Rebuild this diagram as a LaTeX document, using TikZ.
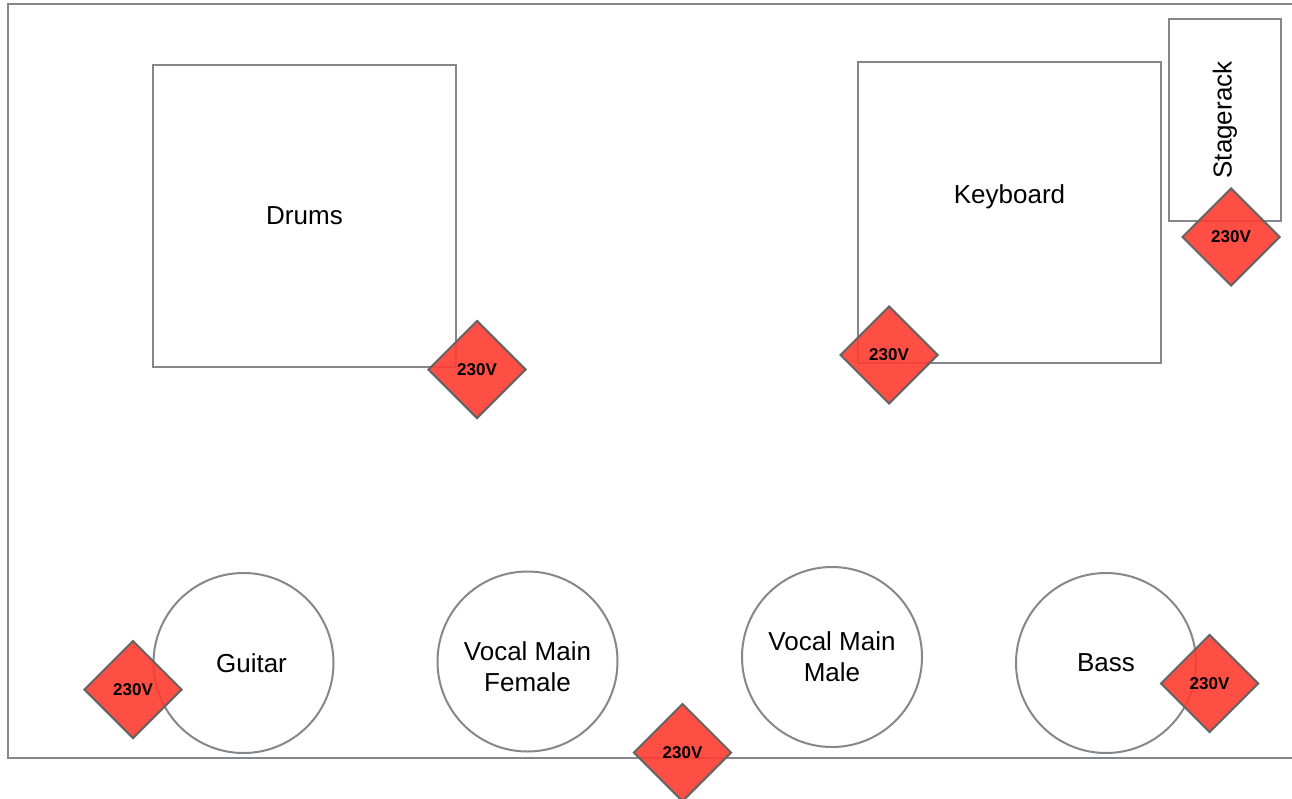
\documentclass[tikz,border=0pt]{standalone}
\usepackage{fontspec}
\setmainfont{Liberation Sans}
\usepackage{tikz}
\usetikzlibrary{positioning, shapes}

\definecolor{outlineGray}{HTML}{85878C}
\definecolor{socketRed}{HTML}{FF3B30}
\definecolor{socketEdge}{HTML}{646464}

\begin{document}
\begin{tikzpicture}[x=1pt, y=-1pt,
	instrument/.style={rectangle, draw=outlineGray, line width=2pt, fill=white, text centered, 
	font=\fontsize{26}{30}\selectfont},
	player/.style={circle, draw=outlineGray, line width=2pt, fill=white, minimum size=180, 
	inner sep=0pt, align=center, font=\fontsize{26}{31}\selectfont},
	socket/.style={diamond, draw=socketEdge, line width=2pt, fill=socketRed, fill opacity=0.9, 
	text opacity=1, minimum width=98, minimum height=98, inner sep=0pt, 
	font=\bfseries\fontsize{17}{18}\selectfont}]
			
			\useasboundingbox (0,0) rectangle (1292,798);
			
			%Stage
			\draw [outlineGray, line width=2pt] (1300,4) -- (8,4) -- (8,758) -- (1300,758);
			
			%Nodes
			\node (drums) at (304.5,216) [instrument, minimum width=303, minimum height=302] {Drums};
			
			\node (keyboard) at (1009.5,212.5) [instrument, minimum width=303, minimum height=301, 
			label={[yshift=16, font=\fontsize{26}{30}\selectfont]center:Keyboard}] {};
			
			\node (stagerack) at (1225,120) [instrument, rotate=90, minimum width=202, 
			minimum height=112] {Stagerack};
			
			\node (guitar) at (243.5,663) [player, label={[xshift=8, font=\fontsize{26}{30}\selectfont]center:Guitar}] {};
			
			\node (vocalFemale) at (527.5,661.5) [player, label={[yshift=-5, align=center, 
			font=\fontsize{26}{31}\selectfont]center:Vocal Main\\Female}] {};
			
			\node (vocalMale) at (832,657) [player] {Vocal Main\\Male};
			
			\node (bass) at (1106,663) [player] {Bass};
			
			%Power
			\node (powerDrums) at (477,369.5) [socket] {\raisebox{-3pt}{230V}};
			
			\node (powerKeyboard) at (889,355) [socket] {\raisebox{-3pt}{230V}};
			
			\node (powerRack) at (1231,237) [socket] {\raisebox{-3pt}{230V}};
			
			\node (powerGuitar) at (133,689.5) [socket] {\raisebox{-1pt}{230V}};
			
			\node (powerFront) at (682.5,752.5) [socket] {230V};
			
			\node (powerBass) at (1209.5,683.5) [socket] {\raisebox{-3pt}{230V}};
			
			\end{tikzpicture}
\end{document}
